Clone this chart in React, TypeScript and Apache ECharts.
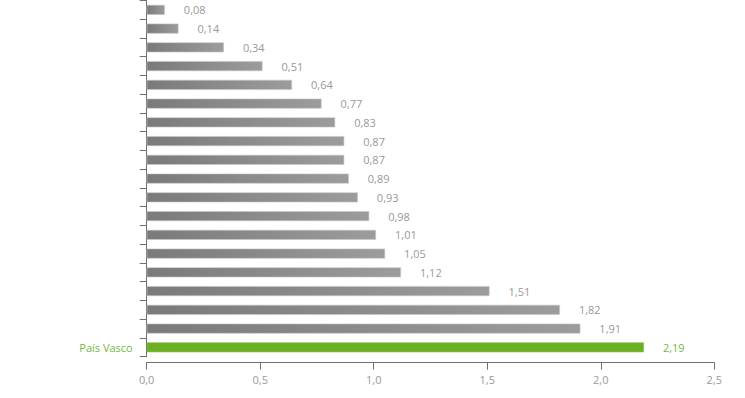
import React, { useEffect, useRef } from "react";
import * as echarts from "echarts";

const categories = ["r1","r2","r3","r4","r5","r6","r7","r8","r9","r10","r11","r12","r13","r14","r15","r16","r17","r18","País Vasco"];
const values = [0.08, 0.14, 0.34, 0.51, 0.64, 0.77, 0.83, 0.87, 0.87, 0.89, 0.93, 0.98, 1.01, 1.05, 1.12, 1.51, 1.82, 1.91, 2.19];
const highlight = "País Vasco";
const xTicks = [0, 0.5, 1, 1.5, 2, 2.5];

const GREEN = "#6cb022";
const GREEN_TEXT = "#72b844";
const GRAY_TEXT = "#999999";
const FONT = "Open Sans";

export default function App() {
  const ref = useRef<HTMLDivElement>(null);
  useEffect(() => {
    if (!ref.current) return;
    const chart = echarts.init(ref.current, null, { renderer: "svg" });
    const grayGrad = new echarts.graphic.LinearGradient(0, 0, 1, 0, [
      { offset: 0, color: "#7a7a7a" },
      { offset: 1, color: "#9c9c9c" },
    ]);
    chart.setOption({
      animation: false,
      grid: { left: 146.7, right: 30.7, top: 0.5, bottom: 41.3, containLabel: false },
      xAxis: {
        type: "value",
        min: xTicks[0],
        max: xTicks[xTicks.length - 1],
        interval: 0.5,
        offset: 6,
        splitLine: { show: false },
        axisLine: { show: true, lineStyle: { color: "#6f6f6f", width: 1 } },
        axisTick: { show: true, length: 7, lineStyle: { color: "#6f6f6f" } },
        axisLabel: {
          color: GRAY_TEXT,
          fontFamily: FONT,
          fontSize: 11,
          margin: 11,
          formatter: (v: number) => v.toFixed(1).replace(".", ","),
        },
      },
      yAxis: {
        type: "category",
        data: categories,
        inverse: true,
        offset: 3,
        axisLine: { show: true, lineStyle: { color: "#6f6f6f", width: 1 } },
        axisTick: { show: true, length: 7, lineStyle: { color: "#6f6f6f" } },
        axisLabel: {
          fontFamily: FONT,
          fontSize: 11,
          margin: 11,
          color: GREEN_TEXT,
          formatter: (v: string) => (v === highlight ? v : ""),
        },
      },
      series: [
        {
          type: "bar",
          barWidth: 10,
          data: values.map((v, i) => {
            const hl = categories[i] === highlight;
            return {
              value: v,
              itemStyle: {
                color: hl ? GREEN : grayGrad,
                borderColor: hl ? "#8cc35a" : "#c8c8c8",
                borderWidth: 0.6,
              },
              label: {
                show: true,
                position: "right",
                distance: 19,
                fontFamily: FONT,
                fontSize: 11,
                color: hl ? GREEN_TEXT : GRAY_TEXT,
                textBorderWidth: 0,
              },
            };
          }),
          label: {
            show: true,
            position: "right",
            distance: 19,
            fontFamily: FONT,
            fontSize: 11,
            color: GRAY_TEXT,
            textBorderWidth: 0,
            formatter: (p: any) => p.value.toFixed(2).replace(".", ","),
          },
        },
      ],
    });
    return () => chart.dispose();
  }, []);
  return (
    <div
      ref={ref}
      style={{ position: "fixed", left: 0, top: 0, width: 745, height: 398, background: "#fff" }}
    />
  );
}
